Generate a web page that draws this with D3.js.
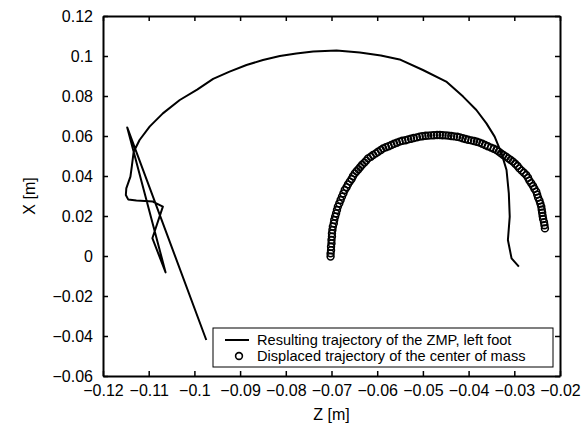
<!DOCTYPE html>
<html>
<head>
<meta charset="utf-8">
<script src="https://cdn.jsdelivr.net/npm/d3@7"></script>
<style>
    body { margin: 0; background: #fff; }
    #chart-area { width: 583px; height: 433px; }
    text { font-family: "Liberation Sans", Arial, Helvetica, sans-serif; }
</style>
</head>
<body>
<div id="chart-area"></div>
<script>

// Tick values for both axes
let xTicks = [-0.12, -0.11, -0.1, -0.09, -0.08, -0.07, -0.06, -0.05, -0.04, -0.03, -0.02];
let yTicks = [-0.06, -0.04, -0.02, 0, 0.02, 0.04, 0.06, 0.08, 0.1, 0.12];

// Legend labels
let seriesNames = ["Resulting trajectory of the ZMP, left foot", "Displaced trajectory of the center of mass"];

// ZMP trajectory, left foot: [Z, X]
let zmpPath = [
    [-0.0290, -0.0053], [-0.0306, -0.0012], [-0.0314, 0.0080], [-0.0310, 0.0197],
    [-0.0312, 0.0313], [-0.0317, 0.0430], [-0.0328, 0.0513], [-0.0343, 0.0597],
    [-0.0361, 0.0663], [-0.0383, 0.0730], [-0.0412, 0.0797], [-0.0449, 0.0872],
    [-0.0500, 0.0930], [-0.0551, 0.0983], [-0.0592, 0.1003], [-0.0638, 0.1017],
    [-0.0689, 0.1027], [-0.0740, 0.1022], [-0.0777, 0.1013], [-0.0813, 0.1000],
    [-0.0850, 0.0980], [-0.0886, 0.0955], [-0.0923, 0.0922], [-0.0959, 0.0886],
    [-0.0994, 0.0832], [-0.1032, 0.0780], [-0.1069, 0.0713], [-0.1098, 0.0647],
    [-0.1120, 0.0580], [-0.1133, 0.0520], [-0.1137, 0.0447], [-0.1140, 0.0397],
    [-0.1149, 0.0338], [-0.1150, 0.0305], [-0.1145, 0.0283], [-0.1127, 0.0277],
    [-0.1091, 0.0272], [-0.1069, 0.0247], [-0.1092, 0.0089], [-0.1063, -0.0082],
    [-0.1147, 0.0643], [-0.0974, -0.0420]
];

// Displaced centre of mass markers: [Z, X]
let comPoints = [
    [-0.0702, -0.0003], [-0.0702, 0.0013], [-0.0701, 0.0029], [-0.0701, 0.0046], [-0.0700, 0.0063],
    [-0.0700, 0.0080], [-0.0699, 0.0097], [-0.0699, 0.0113], [-0.0698, 0.0130], [-0.0697, 0.0147],
    [-0.0695, 0.0163], [-0.0694, 0.0180], [-0.0692, 0.0197], [-0.0690, 0.0213], [-0.0688, 0.0230],
    [-0.0686, 0.0247], [-0.0683, 0.0263], [-0.0680, 0.0280], [-0.0677, 0.0297], [-0.0674, 0.0313],
    [-0.0671, 0.0330], [-0.0667, 0.0344], [-0.0664, 0.0358], [-0.0660, 0.0372], [-0.0656, 0.0385],
    [-0.0653, 0.0399], [-0.0649, 0.0413], [-0.0645, 0.0424], [-0.0641, 0.0434], [-0.0637, 0.0445],
    [-0.0633, 0.0456], [-0.0628, 0.0467], [-0.0624, 0.0477], [-0.0620, 0.0488], [-0.0614, 0.0496],
    [-0.0609, 0.0505], [-0.0603, 0.0513], [-0.0598, 0.0521], [-0.0592, 0.0530], [-0.0587, 0.0538],
    [-0.0581, 0.0544], [-0.0575, 0.0549], [-0.0569, 0.0555], [-0.0563, 0.0561], [-0.0557, 0.0566],
    [-0.0551, 0.0572], [-0.0545, 0.0576], [-0.0538, 0.0579], [-0.0532, 0.0583], [-0.0526, 0.0586],
    [-0.0520, 0.0590], [-0.0513, 0.0593], [-0.0507, 0.0597], [-0.0501, 0.0599], [-0.0494, 0.0601],
    [-0.0488, 0.0602], [-0.0482, 0.0603], [-0.0476, 0.0604], [-0.0469, 0.0605], [-0.0463, 0.0605],
    [-0.0457, 0.0604], [-0.0450, 0.0603], [-0.0444, 0.0602], [-0.0438, 0.0600], [-0.0432, 0.0598],
    [-0.0425, 0.0596], [-0.0419, 0.0593], [-0.0413, 0.0589], [-0.0407, 0.0585], [-0.0401, 0.0581],
    [-0.0394, 0.0578], [-0.0388, 0.0575], [-0.0382, 0.0571], [-0.0376, 0.0567], [-0.0370, 0.0561],
    [-0.0364, 0.0555], [-0.0358, 0.0549], [-0.0351, 0.0542], [-0.0345, 0.0536], [-0.0339, 0.0530],
    [-0.0334, 0.0522], [-0.0329, 0.0513], [-0.0324, 0.0505], [-0.0318, 0.0497], [-0.0313, 0.0488],
    [-0.0308, 0.0480], [-0.0303, 0.0472], [-0.0298, 0.0461], [-0.0293, 0.0450], [-0.0289, 0.0438],
    [-0.0284, 0.0427], [-0.0279, 0.0416], [-0.0274, 0.0405], [-0.0270, 0.0391], [-0.0267, 0.0377],
    [-0.0263, 0.0364], [-0.0259, 0.0350], [-0.0256, 0.0336], [-0.0252, 0.0322], [-0.0250, 0.0307],
    [-0.0248, 0.0292], [-0.0245, 0.0277], [-0.0243, 0.0262], [-0.0241, 0.0247], [-0.0240, 0.0231],
    [-0.0239, 0.0216], [-0.0238, 0.0200], [-0.0237, 0.0185], [-0.0235, 0.0169], [-0.0234, 0.0154],
    [-0.0233, 0.0138]
];

class TrajectoryPlot {

    constructor(parentElement) {
        this.parentElement = parentElement;
        this.initVis();
    }

    initVis() {
        let vis = this;

        vis.margin = {top: 16, right: 23, bottom: 57, left: 103};
        vis.width = 583 - vis.margin.left - vis.margin.right;
        vis.height = 433 - vis.margin.top - vis.margin.bottom;

        vis.svg = d3.select("#" + vis.parentElement).append("svg")
            .attr("width", 583)
            .attr("height", 433)
            .append("g")
            .attr("transform", "translate(" + vis.margin.left + "," + vis.margin.top + ")");

        // Scales
        vis.x = d3.scaleLinear().domain([-0.12, -0.02]).range([0, vis.width]);
        vis.y = d3.scaleLinear().domain([-0.06, 0.12]).range([vis.height, 0]);

        let fmt = d => String(+d.toFixed(2)).replace("-", "\u2212");

        // Axes, ticks pointing inward like the original
        vis.svg.append("g")
            .attr("class", "x-axis")
            .attr("transform", "translate(0," + vis.height + ")")
            .call(d3.axisBottom(vis.x).tickValues(xTicks).tickFormat(fmt)
                .tickSizeInner(-5).tickSizeOuter(0).tickPadding(9));

        vis.svg.append("g")
            .attr("class", "x-axis")
            .call(d3.axisTop(vis.x).tickValues(xTicks).tickFormat("")
                .tickSizeInner(-5).tickSizeOuter(0));

        vis.svg.append("g")
            .attr("class", "y-axis")
            .call(d3.axisLeft(vis.y).tickValues(yTicks).tickFormat(fmt)
                .tickSizeInner(-5).tickSizeOuter(0).tickPadding(10));

        vis.svg.append("g")
            .attr("class", "y-axis")
            .attr("transform", "translate(" + vis.width + ",0)")
            .call(d3.axisRight(vis.y).tickValues(yTicks).tickFormat("")
                .tickSizeInner(-5).tickSizeOuter(0));

        vis.svg.selectAll(".domain").attr("stroke", "#000").attr("stroke-width", 2);
        vis.svg.selectAll(".tick line").attr("stroke", "#000").attr("stroke-width", 1.5);
        vis.svg.selectAll(".tick text")
            .attr("fill", "#000")
            .attr("font-size", 16)
            .attr("font-family", "Liberation Sans, Arial, sans-serif");

        // Axis titles
        vis.svg.append("text")
            .attr("x", vis.width / 2)
            .attr("y", vis.height + 44)
            .attr("text-anchor", "middle")
            .attr("font-size", 16)
            .text("Z [m]");

        vis.svg.append("text")
            .attr("transform", "rotate(-90)")
            .attr("x", -vis.height / 2)
            .attr("y", -68)
            .attr("text-anchor", "middle")
            .attr("font-size", 16)
            .text("X [m]");

        // ZMP line
        vis.svg.append("path")
            .datum(zmpPath)
            .attr("fill", "none")
            .attr("stroke", "#000")
            .attr("stroke-width", 2)
            .attr("stroke-linejoin", "round")
            .attr("d", d3.line()
                .x(d => vis.x(d[0]))
                .y(d => vis.y(d[1]))
                .curve(d3.curveLinear));

        // Centre of mass markers
        vis.svg.selectAll(".com")
            .data(comPoints)
            .enter().append("circle")
            .attr("class", "com")
            .attr("cx", d => vis.x(d[0]))
            .attr("cy", d => vis.y(d[1]))
            .attr("r", 3.4)
            .attr("fill", "none")
            .attr("stroke", "#000")
            .attr("stroke-width", 1.6);

        // Legend
        let lg = vis.svg.append("g")
            .attr("transform", "translate(" + (213 - vis.margin.left) + "," + (328 - vis.margin.top) + ")");

        lg.append("rect")
            .attr("width", 340)
            .attr("height", 39)
            .attr("fill", "#fff")
            .attr("stroke", "#000")
            .attr("stroke-width", 1);

        lg.append("line")
            .attr("x1", 12).attr("x2", 36)
            .attr("y1", 12).attr("y2", 12)
            .attr("stroke", "#000")
            .attr("stroke-width", 2);

        lg.append("circle")
            .attr("cx", 26).attr("cy", 28)
            .attr("r", 3.4)
            .attr("fill", "none")
            .attr("stroke", "#000")
            .attr("stroke-width", 1.6);

        lg.selectAll(".legend-label")
            .data(seriesNames)
            .enter().append("text")
            .attr("class", "legend-label")
            .attr("x", 44)
            .attr("y", (d, i) => 17 + i * 16)
            .attr("font-size", 14.6)
            .text(d => d);
    }
}

new TrajectoryPlot("chart-area");

</script>
</body>
</html>
